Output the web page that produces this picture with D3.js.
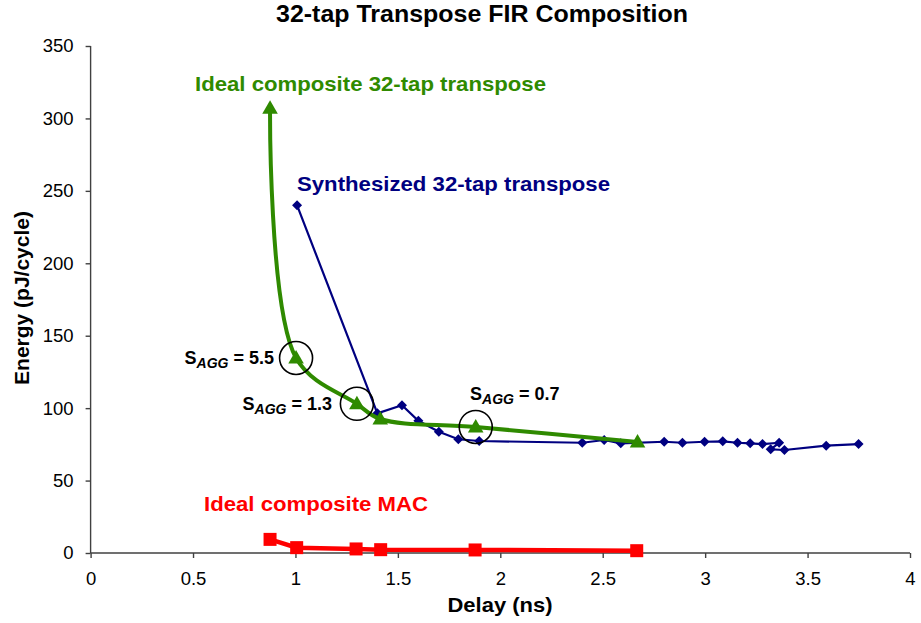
<!DOCTYPE html>
<html>
<head>
<meta charset="utf-8">
<script src="https://cdn.jsdelivr.net/npm/d3@7"></script>
<style>
  body { margin: 0; background: #fff; }
  text { font-family: "Liberation Sans", Arial, sans-serif; }
</style>
</head>
<body>
<svg id="chart" width="921" height="623"></svg>
<script>
// Ideal composite 32-tap transpose (green, smoothed)
const idealFirX = [0.876, 1.003, 1.30, 1.414, 1.88, 2.67];
const idealFirY = [307, 134.6, 103, 92.5, 87, 76.6];

// Synthesized 32-tap transpose (navy diamonds)
const synthX = [1.008, 1.40, 1.52, 1.60, 1.70, 1.795, 1.897, 2.40, 2.507, 2.588, 2.80, 2.889, 2.997, 3.086, 3.158, 3.22, 3.28, 3.361, 3.32, 3.387, 3.591, 3.749];
const synthY = [240, 96.4, 102, 91.3, 83.7, 78.5, 77.3, 76.1, 78, 75.7, 76.8, 76.1, 76.8, 77.1, 76.1, 75.7, 75.2, 76.1, 71.6, 71.1, 74.1, 75.2];

// Ideal composite MAC (red squares)
const macX = [0.876, 1.006, 1.296, 1.416, 1.877, 2.666];
const macY = [9.4, 3.7, 2.8, 2.3, 2.1, 1.6];

// Annotated points
const annotX = [1.003, 1.30, 1.88];
const annotY = [134.6, 103, 87];
const annotVal = ["5.5", "1.3", "0.7"];

const xTicks = [0, 0.5, 1, 1.5, 2, 2.5, 3, 3.5, 4];
const yTicks = [0, 50, 100, 150, 200, 250, 300, 350];

const green = "#2f8a00", navy = "#000080", red = "#ff0000";

const margin = { top: 46, right: 11, bottom: 70, left: 90.6 };
const width = 921 - margin.left - margin.right;
const height = 623 - margin.top - margin.bottom;

const svg = d3.select("#chart");
const chart = svg.append("g").attr("transform", `translate(${margin.left},${margin.top})`);

const x = d3.scaleLinear().domain([0, 4]).range([0, width]);
const y = d3.scaleLinear().domain([0, 350]).range([height, 0]);

// axes
const yAxis = chart.append("g")
  .call(d3.axisLeft(y).tickValues(yTicks).tickSize(5).tickPadding(12));
const xAxis = chart.append("g")
  .attr("transform", `translate(0,${height})`)
  .call(d3.axisBottom(x).tickValues(xTicks).tickSize(5).tickPadding(14).tickFormat(d3.format("")));
[xAxis, yAxis].forEach(a => {
  a.selectAll("path, line").attr("stroke", "#404040").attr("stroke-width", 1.4);
  a.selectAll("text").attr("font-size", 18.5).attr("fill", "#000");
});
yAxis.select(".domain").attr("d", `M0,${height}V0`);
xAxis.select(".domain").attr("d", `M0,0H${width}`);

svg.append("text")
  .attr("x", 482).attr("y", 22)
  .attr("text-anchor", "middle")
  .attr("font-size", 24).attr("font-weight", "bold")
  .attr("textLength", 412).attr("lengthAdjust", "spacingAndGlyphs")
  .text("32-tap Transpose FIR Composition");
svg.append("text")
  .attr("x", 500).attr("y", 612)
  .attr("text-anchor", "middle")
  .attr("font-size", 21).attr("font-weight", "bold")
  .attr("textLength", 105).attr("lengthAdjust", "spacingAndGlyphs")
  .text("Delay (ns)");
svg.append("text")
  .attr("transform", `translate(29,298) rotate(-90)`)
  .attr("text-anchor", "middle")
  .attr("font-size", 21).attr("font-weight", "bold")
  .text("Energy (pJ/cycle)");

const idx = a => a.map((_, i) => i);

// synthesized series
chart.append("path")
  .datum(idx(synthX))
  .attr("fill", "none").attr("stroke", navy).attr("stroke-width", 2.2)
  .attr("d", d3.line().x(i => x(synthX[i])).y(i => y(synthY[i])));
chart.selectAll(".diamond")
  .data(idx(synthX))
  .join("path")
  .attr("transform", i => `translate(${x(synthX[i])},${y(synthY[i])}) rotate(45)`)
  .attr("d", d3.symbol(d3.symbolSquare, 50)())
  .attr("fill", navy);

// ideal FIR series
chart.append("path")
  .datum(idx(idealFirX))
  .attr("fill", "none").attr("stroke", green).attr("stroke-width", 4)
  .attr("d", d3.line().curve(d3.curveCatmullRom.alpha(0.5))
    .x(i => x(idealFirX[i])).y(i => y(idealFirY[i])));
chart.selectAll(".tri")
  .data(idx(idealFirX))
  .join("path")
  .attr("transform", i => `translate(${x(idealFirX[i])},${y(idealFirY[i]) + 1})`)
  .attr("d", d3.symbol(d3.symbolTriangle, 105)())
  .attr("fill", green);

// MAC series
chart.append("path")
  .datum(idx(macX))
  .attr("fill", "none").attr("stroke", red).attr("stroke-width", 4.5)
  .attr("d", d3.line().x(i => x(macX[i])).y(i => y(macY[i])));
chart.selectAll(".sq")
  .data(idx(macX))
  .join("rect")
  .attr("x", i => x(macX[i]) - 6.5).attr("y", i => y(macY[i]) - 6.5)
  .attr("width", 13).attr("height", 13)
  .attr("fill", red);

// annotation circles
chart.selectAll(".ring")
  .data(idx(annotX))
  .join("circle")
  .attr("cx", i => x(annotX[i])).attr("cy", i => y(annotY[i]))
  .attr("r", 16.5)
  .attr("fill", "none").attr("stroke", "#000").attr("stroke-width", 1.6);

// annotation labels
const labelPos = [
  { x: 274, y: 364, anchor: "end" },
  { x: 332, y: 410, anchor: "end" },
  { x: 470, y: 400, anchor: "start" }
];
labelPos.forEach((p, i) => {
  const t = svg.append("text")
    .attr("x", p.x).attr("y", p.y)
    .attr("text-anchor", p.anchor)
    .attr("font-size", 18).attr("font-weight", "bold");
  t.append("tspan").text("S");
  t.append("tspan").attr("font-size", 14).attr("font-style", "italic").attr("dy", 4).text("AGG");
  t.append("tspan").attr("dy", -4).text(" = " + annotVal[i]);
});

// series labels
const seriesLabels = [
  { text: "Ideal composite 32-tap transpose", x: 195, y: 91, len: 351, color: green },
  { text: "Synthesized 32-tap transpose", x: 297, y: 191, len: 313, color: navy },
  { text: "Ideal composite MAC", x: 204, y: 511, len: 224, color: red }
];
seriesLabels.forEach(s => {
  svg.append("text").attr("x", s.x).attr("y", s.y)
    .attr("font-size", 21).attr("font-weight", "bold").attr("fill", s.color)
    .attr("textLength", s.len).attr("lengthAdjust", "spacingAndGlyphs")
    .text(s.text);
});
</script>
</body>
</html>
